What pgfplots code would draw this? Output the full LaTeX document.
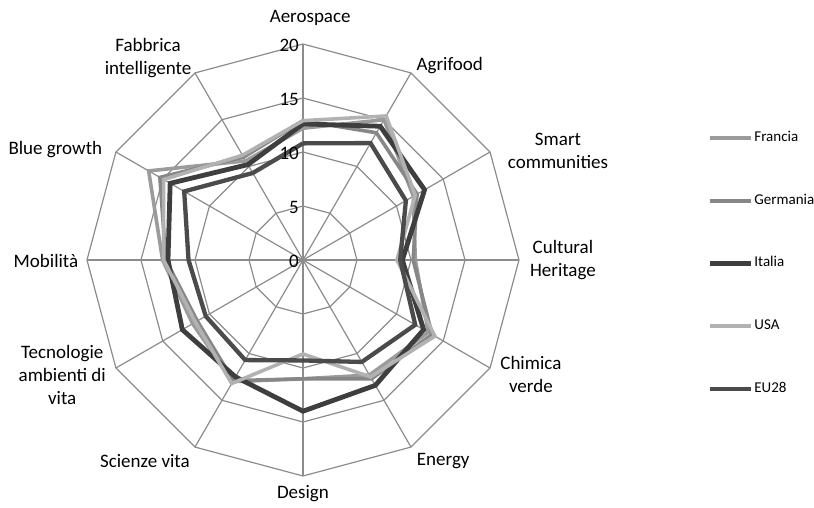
\documentclass[border=0pt]{standalone}
\usepackage{pgfplots}
\pgfplotsset{compat=1.18}
\usepgfplotslibrary{polar}
\usepackage{fontspec}
\setmainfont{Carlito}

\definecolor{gridc}{RGB}{140,140,140}
\definecolor{cFra}{RGB}{155,155,155}
\definecolor{cGer}{RGB}{135,135,135}
\definecolor{cIta}{RGB}{62,62,62}
\definecolor{cUSA}{RGB}{178,178,178}
\definecolor{cEU}{RGB}{75,75,75}

\begin{document}
\begin{tikzpicture}[x=1pt,y=1pt]
\useasboundingbox (-303,-248) rectangle (511,260);
\begin{polaraxis}[
  at={(0,0)}, anchor=center,
  width=432pt, height=432pt, scale only axis,
  xmin=0, xmax=360, ymin=0, ymax=20,
  hide axis,
  clip=false,
  legend cell align=left,
  legend image code/.code={\draw[#1] (0pt,0pt) -- (41pt,0pt);},
  legend style={at={(axis description cs:1.435,0.492)}, anchor=west,
    draw=none, fill=none, inner sep=0pt, row sep=49.7pt,
    font=\fontsize{15}{18}\selectfont,
    nodes={inner xsep=1.5pt, inner ysep=0pt, text height=10pt, text depth=3pt},
    /tikz/every even column/.append style={column sep=0pt}},
]
% grid
\addplot[gridc, line width=1.2pt, forget plot] coordinates {(0,20) (180,20)};
\addplot[gridc, line width=1.2pt, forget plot] coordinates {(30,20) (210,20)};
\addplot[gridc, line width=1.2pt, forget plot] coordinates {(60,20) (240,20)};
\addplot[gridc, line width=1.2pt, forget plot] coordinates {(90,20) (270,20)};
\addplot[gridc, line width=1.2pt, forget plot] coordinates {(120,20) (300,20)};
\addplot[gridc, line width=1.2pt, forget plot] coordinates {(150,20) (330,20)};
\addplot[gridc, line width=1.2pt, forget plot] coordinates {(90,5) (60,5) (30,5) (0,5) (330,5) (300,5) (270,5) (240,5) (210,5) (180,5) (150,5) (120,5) (90,5)};
\addplot[gridc, line width=1.2pt, forget plot] coordinates {(90,10) (60,10) (30,10) (0,10) (330,10) (300,10) (270,10) (240,10) (210,10) (180,10) (150,10) (120,10) (90,10)};
\addplot[gridc, line width=1.2pt, forget plot] coordinates {(90,15) (60,15) (30,15) (0,15) (330,15) (300,15) (270,15) (240,15) (210,15) (180,15) (150,15) (120,15) (90,15)};
\addplot[gridc, line width=1.2pt, forget plot] coordinates {(90,20) (60,20) (30,20) (0,20) (330,20) (300,20) (270,20) (240,20) (210,20) (180,20) (150,20) (120,20) (90,20)};

% series: Aerospace, Agrifood, Smart, Cultural, Chimica, Energy, Design, Scienze, Tecnologie, Mobilita, Blue, Fabbrica
\addplot[cFra, line width=3.6pt] coordinates {(90,12.2) (60,15.0) (30,11.8) (0,10.4) (330,13.4) (300,12.3) (270,11.0) (240,13.0) (210,11.8) (180,13.0) (150,16.5) (120,10.6) (90,12.2)};
\addlegendentry{Francia}
\addplot[cGer, line width=3.6pt] coordinates {(90,12.9) (60,13.6) (30,12.2) (0,10.2) (330,13.8) (300,12.7) (270,11.0) (240,12.9) (210,11.3) (180,12.7) (150,15.3) (120,11.0) (90,12.9)};
\addlegendentry{Germania}
\addplot[cIta, line width=4.8pt] coordinates {(90,12.6) (60,14.3) (30,13.0) (0,9.2) (330,12.9) (300,13.4) (270,14.0) (240,12.5) (210,12.9) (180,12.5) (150,14.2) (120,10.2) (90,12.6)};
\addlegendentry{Italia}
\addplot[cUSA, line width=3.6pt] coordinates {(90,12.9) (60,15.4) (30,12.0) (0,8.7) (330,14.1) (300,12.5) (270,8.7) (240,13.2) (210,11.5) (180,12.9) (150,14.9) (120,11.2) (90,12.9)};
\addlegendentry{USA}
\addplot[cEU, line width=4.3pt] coordinates {(90,10.8) (60,12.5) (30,11.0) (0,9.0) (330,12.0) (300,10.9) (270,9.3) (240,10.7) (210,10.4) (180,10.6) (150,12.7) (120,9.3) (90,10.8)};
\addlegendentry{EU28}

% tick labels
\foreach \v in {0,5,10,15,20} {
  \edef\tmp{\noexpand\node[anchor=east, inner sep=0pt, font=\noexpand\fontsize{19}{23}\noexpand\selectfont] at (axis cs:90,\v) [xshift=-4pt, yshift=-1pt] {\v};}
  \tmp
}
% category labels
\begin{scope}[every node/.style={align=center, font=\fontsize{19}{23}\selectfont, inner sep=0pt}]
\node at (axis cs:88.3,22.41) {Aerospace};
\node at (axis cs:52.9,22.53) {Agrifood};
\node at (axis cs:23.1,25.67) {Smart\\communities};
\node at (axis cs:0,24.07) {Cultural\\Heritage};
\node at (axis cs:333.4,23.6) {Chimica\\verde};
\node at (axis cs:304.9,22.7) {Energy};
\node at (axis cs:270,21.67) {Design};
\node at (axis cs:231.8,23.67) {Scienze vita};
\node at (axis cs:205.5,24.7) {Tecnologie\\ambienti di\\vita};
\node at (axis cs:180.2,23.8) {Mobilità};
\node at (axis cs:156,25.1) {Blue growth};
\node at (axis cs:127.5,23.57) {Fabbrica\\intelligente};
\end{scope}
\end{polaraxis}
\end{tikzpicture}
\end{document}
